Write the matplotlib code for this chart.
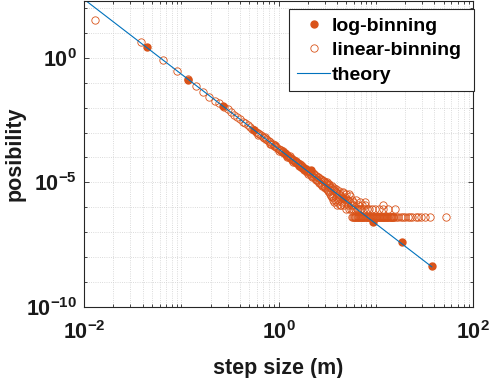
import numpy as np
import matplotlib
matplotlib.use("Agg")
import matplotlib.pyplot as plt
from matplotlib.ticker import FixedLocator, LogLocator, NullFormatter, FixedFormatter

plt.rcParams['font.family'] = ['Liberation Sans', 'DejaVu Sans']
plt.rcParams['font.weight'] = 'bold'
plt.rcParams['mathtext.fontset'] = 'custom'
plt.rcParams['mathtext.rm'] = 'Liberation Sans:bold'
plt.rcParams['mathtext.it'] = 'Liberation Sans:bold'
plt.rcParams['mathtext.bf'] = 'Liberation Sans:bold'

# log-binned histogram
log_x = [0.044, 0.118, 0.27, 0.56, 1.18, 2.15, 4.6, 9.4, 18.8, 37.7]
log_y = [2.6, 0.13, 0.0115, 1.3e-3, 1.55e-4, 3.2e-5, 2.4e-6, 2.6e-7, 3.9e-8, 4.4e-9]

# linear-binned histogram (main band)
lin_x = [0.013, 0.039, 0.065, 0.091, 0.117, 0.143, 0.169, 0.195, 0.221, 0.247,
         0.273, 0.299, 0.325, 0.351, 0.377, 0.403, 0.429, 0.455, 0.481, 0.507,
         0.533, 0.559, 0.585, 0.611, 0.637, 0.663, 0.689, 0.715, 0.741, 0.767,
         0.793, 0.819, 0.845, 0.871, 0.897, 0.923, 0.949, 0.975, 1.001, 1.027,
         1.053, 1.079, 1.105, 1.131, 1.157, 1.183, 1.209, 1.235, 1.261, 1.287,
         1.313, 1.339, 1.365, 1.391, 1.417, 1.443, 1.469, 1.495, 1.521, 1.547,
         1.573, 1.599, 1.625, 1.651, 1.677, 1.703, 1.729, 1.755, 1.781, 1.807,
         1.833, 1.859, 1.885, 1.911, 1.937, 1.963, 1.989,
         2.041, 2.093, 2.145, 2.197, 2.249, 2.301, 2.353, 2.405, 2.457, 2.509,
         2.561, 2.613, 2.665, 2.717, 2.769, 2.821, 2.873, 2.925, 2.977, 3.029,
         3.081, 3.133, 3.185, 3.237, 3.289, 3.341, 3.393, 3.445, 3.497, 3.549,
         3.601, 3.653, 3.705, 3.757, 3.809, 3.861, 3.913, 3.965, 4.017, 4.121,
         4.225, 4.329, 4.433, 4.537, 4.641, 4.745, 4.849, 4.953, 5.057, 5.161,
         5.265, 5.369, 5.473, 5.577]
lin_y = [33, 4.2, 0.81, 0.29, 0.14, 0.072, 0.043, 0.027, 0.019, 0.0148,
         0.011, 8.6e-3, 6.4e-3, 5.3e-3, 4.1e-3, 3.5e-3, 2.7e-3, 2.4e-3, 2.0e-3, 1.75e-3,
         1.45e-3, 1.3e-3, 1.1e-3, 1.0e-3, 8.6e-4, 7.8e-4, 6.8e-4, 6.2e-4, 5.4e-4, 5.0e-4,
         4.4e-4, 4.2e-4, 3.6e-4, 3.4e-4, 3.0e-4, 2.9e-4, 2.55e-4, 2.45e-4, 2.2e-4, 2.0e-4,
         1.95e-4, 1.7e-4, 1.6e-4, 1.58e-4, 1.4e-4, 1.36e-4, 1.3e-4, 1.18e-4, 1.12e-4, 1.06e-4,
         9.6e-5, 9.3e-5, 9.0e-5, 8.0e-5, 7.9e-5, 7.6e-5, 6.8e-5, 6.8e-5, 6.6e-5, 5.8e-5,
         6.0e-5, 5.5e-5, 5.0e-5, 5.3e-5, 4.6e-5, 4.3e-5, 4.6e-5, 3.9e-5, 3.8e-5, 4.0e-5,
         3.4e-5, 3.5e-5, 3.1e-5, 3.4e-5, 2.9e-5, 2.7e-5, 3.0e-5,
         2.9e-5, 2.2e-5, 2.6e-5, 1.8e-5, 2.3e-5, 1.6e-5, 2.0e-5, 1.4e-5, 1.8e-5, 1.2e-5,
         1.6e-5, 1.05e-5, 1.4e-5, 9.0e-6, 1.3e-5, 8.0e-6, 1.15e-5, 7.0e-6, 1.05e-5, 6.5e-6,
         9.5e-6, 5.3e-6, 8.5e-6, 4.9e-6, 8.0e-6, 4.1e-6, 6.6e-6, 2.9e-6, 6.1e-6, 2.5e-6,
         5.3e-6, 2.05e-6, 4.9e-6, 1.64e-6, 4.5e-6, 2.5e-6, 4.1e-6, 1.23e-6, 3.7e-6, 2.05e-6,
         3.3e-6, 1.23e-6, 2.9e-6, 1.64e-6, 3.7e-6, 1.23e-6, 2.5e-6, 8.2e-7, 2.05e-6, 1.23e-6,
         3.3e-6, 8.2e-7, 1.64e-6, 1.23e-6]

# extra linear-binned points scattered around the band
band_x = [0.62, 0.72, 0.82, 0.92, 1.02, 1.12, 1.22, 1.32, 1.42, 1.52, 1.62, 1.72,
          1.82, 1.92, 2.02, 2.12, 2.22, 2.32, 2.42, 2.52, 2.62, 2.72, 2.82, 2.92,
          3.02, 3.12, 3.22, 3.32, 3.42, 3.52, 3.62, 3.72, 3.82, 3.92, 4.02, 4.2,
          4.4, 4.6, 4.8, 5.0, 5.2, 5.4, 5.6]
band_y = [8.0e-4, 6.8e-4, 3.5e-4, 3.2e-4, 1.8e-4, 1.8e-4, 1.05e-4, 1.1e-4, 6.6e-5,
          7.3e-5, 4.4e-5, 5.0e-5, 3.1e-5, 3.6e-5, 2.2e-5, 2.7e-5, 1.6e-5, 2.1e-5,
          1.25e-5, 1.7e-5, 9.5e-6, 1.35e-5, 7.2e-6, 1.15e-5, 5.7e-6, 1.0e-5, 4.5e-6,
          8.6e-6, 3.3e-6, 7.4e-6, 2.5e-6, 6.2e-6, 2.05e-6, 5.3e-6, 1.64e-6, 4.5e-6,
          1.23e-6, 4.1e-6, 1.64e-6, 3.3e-6, 2.05e-6, 2.9e-6, 8.2e-7]

# linear-binned tail, bins holding 1..5 counts
tail_x1 = [5.74, 5.85, 5.95, 6.06, 6.17, 6.28, 6.4, 6.51, 6.62, 6.74, 6.85, 6.97,
           7.1, 7.22, 7.35, 7.48, 7.62, 7.76, 7.9, 8.05, 8.19, 8.35, 8.5, 8.65, 8.79,
           8.95, 9.1, 9.26, 9.43, 9.6, 9.8, 9.95, 10.1, 10.3, 10.5, 10.7, 10.9, 11.1,
           11.3, 11.5, 11.7, 11.9, 12.1, 12.3, 12.5, 12.8, 13.0, 13.2, 13.4, 13.7,
           13.9, 14.2, 14.4, 14.7, 14.9, 15.2, 15.5, 16.2, 17.0, 18.0, 19.1, 20.2,
           21.5, 22.5, 23.7, 26.0, 27.5, 29.3, 32.2, 36.2, 52.8]
tail_x2 = [5.9, 6.17, 6.4, 6.62, 6.85, 7.1, 7.6, 8.13, 8.6, 9.14, 9.9, 10.7, 12.0,
           13.5, 15.8]
tail_x3 = [5.8, 6.5, 7.2, 7.8, 12.0]
tail_x4 = [5.9, 6.9, 7.8]
tail_x5 = [5.7, 6.3]
count_p = [4.1e-7, 8.2e-7, 1.23e-6, 1.64e-6, 2.05e-6]

# theory power law, endpoints
theory_x = [0.01, 37.7]
theory_y = [224, 4.1e-9]

orange = '#D95319'
blue = '#0072BD'

tx = []
ty = []
for xs, p in zip([tail_x1, tail_x2, tail_x3, tail_x4, tail_x5], count_p):
    tx += xs
    ty += [p] * len(xs)
all_x = lin_x + band_x + tx
all_y = lin_y + band_y + ty

fig = plt.figure(figsize=(4.91, 3.78), dpi=100)
ax = fig.add_axes([84/491, 71/378, 389/491, 306/378])

ax.plot(log_x, log_y, 'o', color=orange, markersize=5, label='log-binning')
ax.plot(all_x, all_y, 'o', mfc='none', mec=orange, mew=0.6, markersize=5.3,
        label='linear-binning')
ax.plot(theory_x, theory_y, '-', color=blue, lw=0.8, label='theory')

ax.set_xscale('log')
ax.set_yscale('log')
ax.set_xlim(1e-2, 1e2)
ax.set_ylim(1e-10, 10**2.28)

ax.xaxis.set_major_locator(FixedLocator([1e-2, 1e0, 1e2]))
ax.xaxis.set_major_formatter(FixedFormatter([r'$10^{-2}$', r'$10^{0}$', r'$10^{2}$']))
ax.xaxis.set_minor_locator(LogLocator(base=10, subs=np.arange(1, 10), numticks=50))
ax.xaxis.set_minor_formatter(NullFormatter())
ax.yaxis.set_major_locator(FixedLocator([1e-10, 1e-5, 1e0]))
ax.yaxis.set_major_formatter(FixedFormatter([r'$10^{-10}$', r'$10^{-5}$', r'$10^{0}$']))
ax.yaxis.set_minor_locator(LogLocator(base=10, subs=(1.0,), numticks=50))
ax.yaxis.set_minor_formatter(NullFormatter())

ax.grid(True, which='both', linestyle=':', color='#cfcfcf', linewidth=0.6)
ax.set_axisbelow(True)
ax.tick_params(which='both', direction='in', top=True, right=True,
               color='#262626', labelsize=15.5, labelcolor='#1a1a1a', width=0.6)
ax.tick_params(which='major', length=3.5)
ax.tick_params(axis='x', which='major', pad=10)
ax.tick_params(axis='y', which='major', pad=5)
ax.tick_params(which='minor', length=2.2)
for s in ax.spines.values():
    s.set_color('#262626')
    s.set_linewidth(0.8)

ax.set_xlabel('step size (m)', fontsize=15.5, fontweight='bold', color='#1a1a1a', labelpad=10)
ax.set_ylabel('posibility', fontsize=15.5, fontweight='bold', color='#1a1a1a', labelpad=0)

leg = ax.legend(['log-binning', 'linear-binning ', 'theory'],
                loc='upper right', bbox_to_anchor=(1.003, 1 - 8.3/306), borderaxespad=0,
                prop={'weight': 'bold', 'size': 14}, fancybox=False,
                framealpha=1, edgecolor='#262626', handlelength=1.7, handletextpad=0.1,
                labelspacing=0.35, borderpad=0.4, numpoints=1)
leg.get_frame().set_linewidth(0.8)

fig.savefig('out.png', dpi=100)
